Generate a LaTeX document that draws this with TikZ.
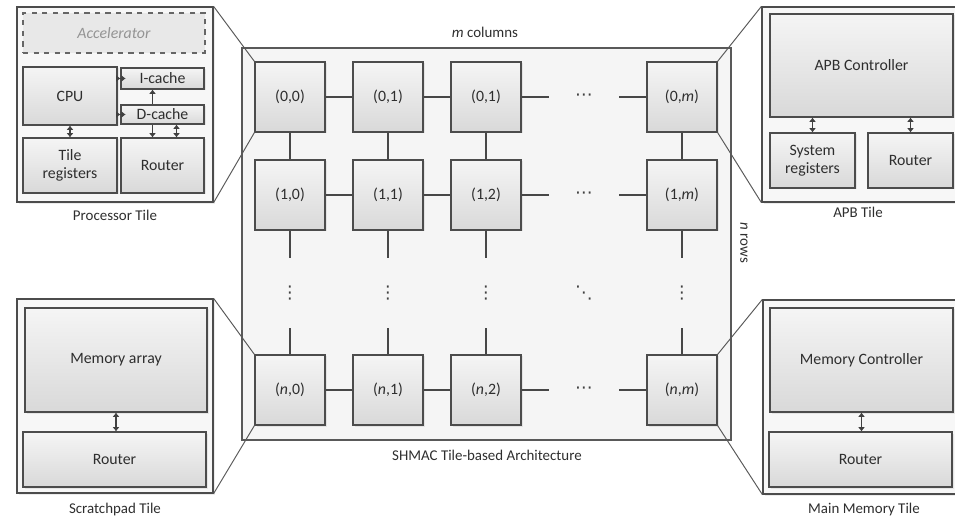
\documentclass[tikz,border=0pt]{standalone}
\usepackage{fontspec}
\setmainfont{Carlito}
\newfontfamily\dotsfont{DejaVu Sans}
\usepackage{tikz}
\usetikzlibrary{calc,shadows,arrows.meta}
\colorlet{boxcol}{black!70}
\colorlet{linecol}{black!72}
\colorlet{textcol}{black!82}
\tikzstyle{frame}=[draw=black!65,line width=0.8pt,fill=black!4,inner sep=0pt]
\tikzstyle{outer}=[draw=boxcol,line width=0.7pt,fill=black!3,inner sep=0pt,
                   drop shadow={shadow xshift=0.4mm,shadow yshift=-0.4mm,opacity=0.15}]
\tikzstyle{block}=[draw=boxcol,line width=0.7pt,top color=black!4,bottom color=black!15,
                   inner sep=0pt,align=center,text=textcol,font=\fontsize{9}{10.5}\selectfont,
                   drop shadow={shadow xshift=0.3mm,shadow yshift=-0.3mm,opacity=0.15}]
\tikzstyle{accel}=[draw=black!60,dashed,line width=0.7pt,fill=black!9,inner sep=0pt,
                   text=black!42,font=\fontsize{9}{10.5}\selectfont\itshape]
\tikzstyle{pe}=[block,minimum width=14mm,minimum height=14mm]
\tikzstyle{dots}=[minimum width=14mm,minimum height=14mm,inner sep=0pt,text=black!75,
                  font=\dotsfont\fontsize{10}{11}\selectfont]
\tikzstyle{caption}=[font=\fontsize{8.5}{10}\selectfont,text=textcol]
\tikzstyle{link}=[draw=linecol,line width=0.8pt]
\tikzstyle{zoom}=[draw=black!65,line width=0.55pt]
\tikzset{
  % box given by its corners in pixels
  pxbox/.style n args={4}{at={({(#1+#3)/2},{(#2+#4)/2})},
                          minimum width={(#3-#1)*0.2mm},minimum height={(#4-#2)*0.2mm}},
  bus/.style={{Latex[length=2.4pt,width=4pt]}-{Latex[length=2.4pt,width=4pt]},
              line width=0.8pt,black!75},
  onebus/.style={-{Latex[length=2.4pt,width=4pt]},line width=0.8pt,black!75}}

\begin{document}
\begin{tikzpicture}[x=0.2mm,y=-0.2mm]
  \useasboundingbox (0,0) rectangle (955,519);
  \clip (0,0) rectangle (955,519);

  % SHMAC FRAME
  \node[frame,pxbox={242}{48}{731}{440}] (shmac) {};
  \node[caption] (mcols) at (485,32) {\textit{m} columns};
  \node[caption,rotate=-90] (nrows) at (744,243) {\textit{n} rows};
  \node[caption] (shmaclbl) at (487,455) {SHMAC Tile-based Architecture};

  % PROCESSOR TILE
  \node[outer,pxbox={17}{7}{213}{202}] (proc) {};
  \node[accel,pxbox={23}{13}{205}{53}] (accel) {Accelerator};
  \node[block,pxbox={23}{67}{117}{125}] (cpu) {CPU};
  \node[block,pxbox={121}{68}{204}{89}] (icache) {I-cache};
  \node[block,pxbox={121}{105}{204}{124}] (dcache) {D-cache};
  \node[block,pxbox={23}{138}{117}{193}] (treg) {Tile\\registers};
  \node[block,pxbox={121}{138}{204}{193}] (prouter) {Router};
  \node[caption] (proclbl) at (115,215) {Processor Tile};
  \draw[bus,shorten <=-1.6mm] (cpu.east |- icache.west) -- (icache.west);
  \draw[bus,shorten <=-1.6mm] (cpu.east |- dcache.west) -- (dcache.west);
  \draw[bus] (cpu.south) -- (cpu.south |- treg.north);
  \draw[onebus] ($(dcache.north)+(-10,0)$) -- ($(icache.south)+(-10,0)$);
  \draw[onebus] ($(dcache.south)+(-10,0)$) -- ($(prouter.north)+(-10,0)$);
  \draw[bus] ($(dcache.south)+(14,0)$) -- ($(prouter.north)+(14,0)$);

  % APB TILE
  \node[outer,pxbox={762}{7}{958}{202}] (apb) {};
  \node[block,pxbox={770}{14}{953}{117}] (apbctrl) {APB Controller};
  \node[block,pxbox={770}{133}{855}{188}] (sysreg) {System\\registers};
  \node[block,pxbox={868}{133}{953}{188}] (arouter) {Router};
  \node[caption] (apblbl) at (858,212) {APB Tile};
  \draw[bus] (sysreg.north) -- (sysreg.north |- apbctrl.south);
  \draw[bus] (arouter.north) -- (arouter.north |- apbctrl.south);

  % SCRATCHPAD TILE
  \node[outer,pxbox={17}{299}{213}{493}] (scratch) {};
  \node[block,pxbox={25}{308}{207}{412}] (memarr) {Memory array};
  \node[block,pxbox={23}{432}{206}{487}] (srouter) {Router};
  \node[caption] (scratchlbl) at (115,510) {Scratchpad Tile};
  \draw[bus] (memarr.south) -- (memarr.south |- srouter.north);

  % MAIN MEMORY TILE
  \node[outer,pxbox={763}{300}{958}{494}] (mainmem) {};
  \node[block,pxbox={770}{308}{953}{412}] (memctrl) {Memory Controller};
  \node[block,pxbox={769}{432}{952}{487}] (mrouter) {Router};
  \node[caption] (mainmemlbl) at (864,510) {Main Memory Tile};
  \draw[bus] (memctrl.south) -- (memctrl.south |- mrouter.north);

  % TILE GRID
  \foreach \row/\col/\x/\y/\txt in {
    0/0/290/97/{(0,0)}, 0/1/388/97/{(0,1)}, 0/2/486/97/{(0,1)}, 0/m/682/97/{(0,\textit{m})},
    1/0/290/195/{(1,0)}, 1/1/388/195/{(1,1)}, 1/2/486/195/{(1,2)}, 1/m/682/195/{(1,\textit{m})},
    n/0/290/390/{(\textit{n},0)}, n/1/388/390/{(\textit{n},1)}, n/2/486/390/{(\textit{n},2)},
    n/m/682/390/{(\textit{n},\textit{m})}}
    \node[pe] (t-\row-\col) at (\x,\y) {\txt};
  \foreach \row/\y in {0/97,1/195,n/390}
    \node[dots] (hd-\row) at (584,\y) {⋯};
  \foreach \col/\x in {0/290,1/388,2/486,m/682}
    \node[dots] (vd-\col) at (\x,293) {⋮};
  \node[dots] (dd) at (584,293) {⋱};

  \foreach \row in {0,1,n}{
    \draw[link] (t-\row-0) -- (t-\row-1) (t-\row-1) -- (t-\row-2)
      (t-\row-2) -- (hd-\row) (hd-\row) -- (t-\row-m);
  }
  \foreach \col in {0,1,2,m}{
    \draw[link] (t-0-\col) -- (t-1-\col) (t-1-\col) -- (vd-\col) (vd-\col) -- (t-n-\col);
  }

  % ZOOM LINES
  \draw[zoom] (proc.north east) -- (t-0-0.north west);
  \draw[zoom] (proc.south east) -- (t-0-0.south west);
  \draw[zoom] (apb.north west) -- (t-0-m.north east);
  \draw[zoom] (apb.south west) -- (t-0-m.south east);
  \draw[zoom] (scratch.north east) -- (t-n-0.north west);
  \draw[zoom] (scratch.south east) -- (t-n-0.south west);
  \draw[zoom] (mainmem.north west) -- (t-n-m.north east);
  \draw[zoom] (mainmem.south west) -- (t-n-m.south east);

\end{tikzpicture}
\end{document}
